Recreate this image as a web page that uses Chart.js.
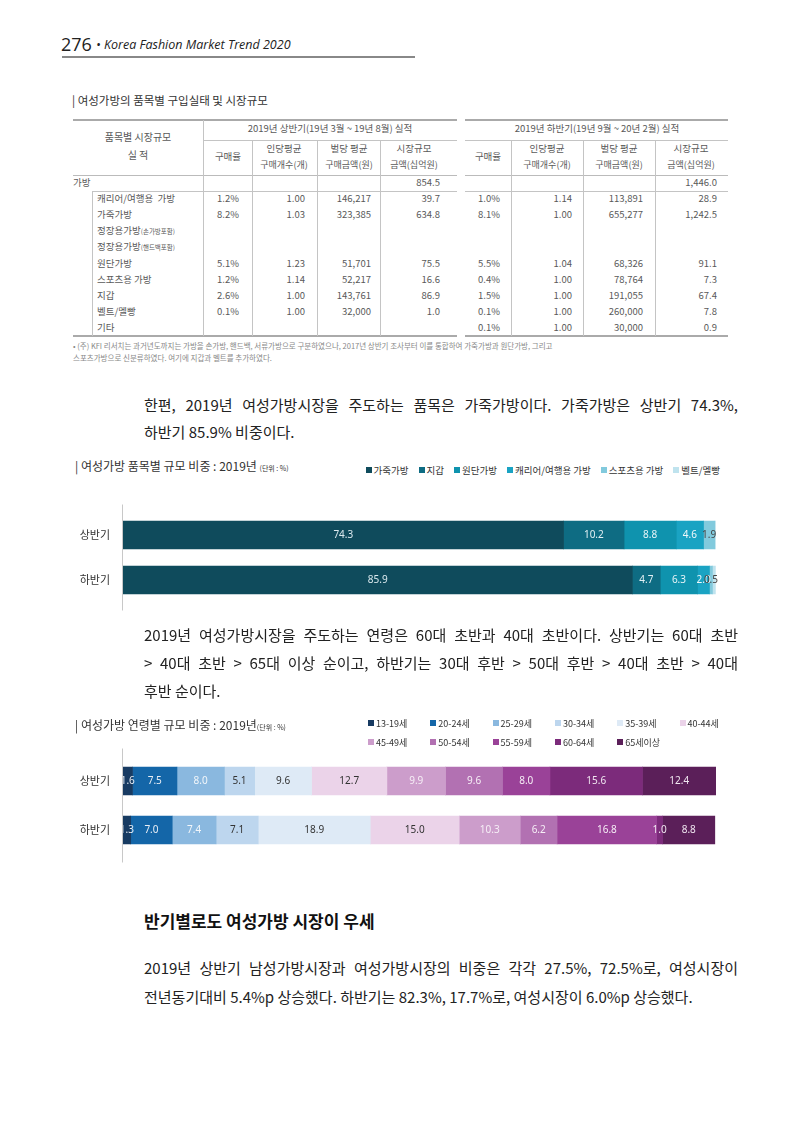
<!DOCTYPE html>
<html><head><meta charset="utf-8">
<script src="https://cdn.jsdelivr.net/npm/chart.js@4"></script>
<style>
body{margin:0;width:800px;height:1131px;position:relative;background:#fff;font-family:"Noto Sans CJK KR","Noto Sans",sans-serif;color:#333;overflow:hidden}
.abs{position:absolute;white-space:nowrap}
.ln{position:absolute;}
.para{position:absolute;left:144px;width:594px;font-size:15px;line-height:15px;color:#222;white-space:nowrap;text-align:justify;text-align-last:justify}
.para.last{text-align:left;text-align-last:left}
canvas{position:absolute;left:0}
.lg{position:absolute;font-size:9.5px;line-height:10px;color:#333;white-space:nowrap}
.lg i{display:inline-block;width:6px;height:6px;margin-right:2px;vertical-align:1px}
</style></head>
<body>
<canvas id="c1" width="800" height="141" style="top:487px"></canvas>
<canvas id="c2" width="800" height="149" style="top:731px"></canvas>
<script>
// ---------- data ----------
const halves = ['상반기', '하반기'];
const itemNames = ['가죽가방', '지갑', '원단가방', '캐리어/여행용 가방', '스포츠용 가방', '벨트/멜빵'];
const leather = [74.3, 85.9];
const wallet = [10.2, 4.7];
const fabric = [8.8, 6.3];
const carrier = [4.6, 2.0];
const sports = [1.9, 0.5];
const belt = [0.1, 0.5];

const ageNames = ['13-19세','20-24세','25-29세','30-34세','35-39세','40-44세','45-49세','50-54세','55-59세','60-64세','65세이상'];
const age13 = [1.6, 1.3];
const age20 = [7.5, 7.0];
const age25 = [8.0, 7.4];
const age30 = [5.1, 7.1];
const age35 = [9.6, 18.9];
const age40 = [12.7, 15.0];
const age45 = [9.9, 10.3];
const age50 = [9.6, 6.2];
const age55 = [8.0, 16.8];
const age60 = [15.6, 1.0];
const age65 = [12.4, 8.8];

// table values
const rowNames = ['캐리어/여행용&nbsp;&nbsp;가방','가죽가방','정장용가방<span style="font-size:6.5px">(손가방포함)</span>','정장용가방<span style="font-size:6.5px">(핸드백포함)</span>','원단가방','스포츠용 가방','지갑','벨트/멜빵','기타'];
const h1Rate  = ['1.2%','8.2%','','','5.1%','1.2%','2.6%','0.1%',''];
const h1Count = ['1.00','1.03','','','1.23','1.14','1.00','1.00',''];
const h1Price = ['146,217','323,385','','','51,701','52,217','143,761','32,000',''];
const h1Size  = ['39.7','634.8','','','75.5','16.6','86.9','1.0',''];
const h2Rate  = ['1.0%','8.1%','','','5.5%','0.4%','1.5%','0.1%','0.1%'];
const h2Count = ['1.14','1.00','','','1.04','1.00','1.00','1.00','1.00'];
const h2Price = ['113,891','655,277','','','68,326','78,764','191,055','260,000','30,000'];
const h2Size  = ['28.9','1,242.5','','','91.1','7.3','67.4','7.8','0.9'];
const totals = ['854.5', '1,446.0'];

// ---------- helpers ----------
function put(html, x, y, fs, o) {
  o = o || {};
  const d = document.createElement('div');
  d.className = 'abs'; d.innerHTML = html;
  d.style.fontSize = fs + 'px'; d.style.lineHeight = fs + 'px';
  d.style.top = (y - fs / 2) + 'px';
  if (o.align === 'right') d.style.right = (800 - x) + 'px';
  else if (o.align === 'center') { d.style.left = x + 'px'; d.style.transform = 'translateX(-50%)'; }
  else d.style.left = x + 'px';
  if (o.color) d.style.color = o.color;
  if (o.weight) d.style.fontWeight = o.weight;
  if (o.family) d.style.fontFamily = o.family;
  if (o.style) d.style.fontStyle = o.style;
  document.body.appendChild(d);
  return d;
}
function hline(x1, x2, y, w, c) {
  const d = document.createElement('div'); d.className = 'ln';
  d.style.left = x1 + 'px'; d.style.width = (x2 - x1) + 'px'; d.style.top = (y - w / 2) + 'px';
  d.style.height = w + 'px'; d.style.background = c; document.body.appendChild(d);
}
function vline(x, y1, y2, w, c) {
  const d = document.createElement('div'); d.className = 'ln';
  d.style.left = (x - w / 2) + 'px'; d.style.top = y1 + 'px'; d.style.width = w + 'px';
  d.style.height = (y2 - y1) + 'px'; d.style.background = c; document.body.appendChild(d);
}
function para(text, y, last) {
  const d = document.createElement('div'); d.className = 'para' + (last ? ' last' : '');
  d.textContent = text; d.style.top = (y - 7.5) + 'px'; document.body.appendChild(d);
}

// ---------- page header ----------
put('276', 61, 44, 18, {family: '"Open Sans",sans-serif', color: '#222'});
put('• Korea Fashion Market Trend 2020', 96, 45, 12.5, {family: '"Open Sans",sans-serif', style: 'italic', color: '#222'});
hline(62, 415, 57, 1.5, '#888');

// ---------- table ----------
put('| 여성가방의 품목별 구입실태 및 시장규모', 72, 101, 11.5, {color: '#333'});
const TC = '#595959', LC = '#c4c4c4';
hline(73, 457, 120, 2, '#aaa'); hline(465, 728, 120, 2, '#aaa');
hline(203, 457, 140, 1, LC); hline(465, 728, 140, 1, LC);
hline(73, 457, 175, 1, '#bbb'); hline(465, 728, 175, 1, '#bbb');
hline(92, 457, 191, 1, LC); hline(465, 728, 191, 1, LC);
hline(73, 457, 336, 2, '#aaa'); hline(465, 728, 336, 2, '#aaa');
vline(203, 120, 336, 1, LC);
[252, 317, 380].forEach(x => vline(x, 140, 336, 1, LC));
[511, 583, 655].forEach(x => vline(x, 140, 336, 1, LC));
vline(92, 191, 336, 1, LC);

put('품목별 시장규모', 138, 137, 10, {align: 'center', color: TC});
put('실 적', 138, 155, 10, {align: 'center', color: TC});
put('2019년 상반기(19년 3월 ~ 19년 8월) 실적', 330, 129, 9.5, {align: 'center', color: TC});
put('2019년 하반기(19년 9월 ~ 20년 2월) 실적', 597, 129, 9.5, {align: 'center', color: TC});
function heads(cx) {
  put('구매율', cx[0], 157, 9.5, {align: 'center', color: TC});
  put('인당평균', cx[1], 149, 9.5, {align: 'center', color: TC});
  put('구매개수(개)', cx[1], 164, 9, {align: 'center', color: TC});
  put('벌당 평균', cx[2], 149, 9.5, {align: 'center', color: TC});
  put('구매금액(원)', cx[2], 164, 9, {align: 'center', color: TC});
  put('시장규모', cx[3], 149, 9.5, {align: 'center', color: TC});
  put('금액(십억원)', cx[3], 164, 9, {align: 'center', color: TC});
}
heads([228, 284, 349, 414]);
heads([488, 547, 619, 691]);

put('가방', 73, 183, 9.5, {color: TC});
put(totals[0], 440, 183, 9.5, {align: 'right', color: TC});
put(totals[1], 717, 183, 9.5, {align: 'right', color: TC});
const rowY = [199, 215, 231, 247, 264, 280, 296, 312, 328];
rowNames.forEach((n, i) => {
  const y = rowY[i];
  put(n, 97, y, 9.5, {color: TC});
  put(h1Rate[i], 228, y, 9.5, {align: 'center', color: TC});
  put(h1Count[i], 305, y, 9.5, {align: 'right', color: TC});
  put(h1Price[i], 371, y, 9.5, {align: 'right', color: TC});
  put(h1Size[i], 440, y, 9.5, {align: 'right', color: TC});
  put(h2Rate[i], 489, y, 9.5, {align: 'center', color: TC});
  put(h2Count[i], 572, y, 9.5, {align: 'right', color: TC});
  put(h2Price[i], 643, y, 9.5, {align: 'right', color: TC});
  put(h2Size[i], 717, y, 9.5, {align: 'right', color: TC});
});
put('• (주) KFI 리서치는 과거년도까지는 가방을 손가방, 핸드백, 서류가방으로 구분하였으나, 2017년 상반기 조사부터 이를 통합하여 가죽가방과 원단가방, 그리고', 73, 346, 7.5, {color: '#888'});
put('스포츠가방으로 신분류하였다. 여기에 지갑과 벨트를 추가하였다.', 73, 358, 7.5, {color: '#888'});

// ---------- paragraphs ----------
para('한편, 2019년 여성가방시장을 주도하는 품목은 가죽가방이다. 가죽가방은 상반기 74.3%,', 404);
para('하반기 85.9% 비중이다.', 431, true);
para('2019년 여성가방시장을 주도하는 연령은 60대 초반과 40대 초반이다. 상반기는 60대 초반', 634);
para('> 40대 초반 > 65대 이상 순이고, 하반기는 30대 후반 > 50대 후반 > 40대 초반 > 40대', 662);
para('후반 순이다.', 690, true);
put('반기별로도 여성가방 시장이 우세', 144, 920, 17, {weight: 700, color: '#111'});
para('2019년 상반기 남성가방시장과 여성가방시장의 비중은 각각 27.5%, 72.5%로, 여성시장이', 967);
para('전년동기대비 5.4%p 상승했다. 하반기는 82.3%, 17.7%로, 여성시장이 6.0%p 상승했다.', 996, true);

// ---------- chart titles ----------
put('| 여성가방 품목별 규모 비중 : 2019년 <span style="font-size:7px">(단위 : %)</span>', 75, 466, 12, {color: '#333'});
put('| 여성가방 연령별 규모 비중 : 2019년<span style="font-size:7px">(단위 : %)</span>', 75, 725, 12, {color: '#333'});

// ---------- colours ----------
const itemColors = ['#0f4b5c', '#0e6c83', '#0f93ae', '#1aa3c3', '#82cadd', '#bfe3ee'];
const itemLabelColors = ['#dbe9ee', '#e3f0f4', '#e8f4f7', '#f0f8fa', '#444', '#444'];
const ageColors = ['#183b62', '#1466a8', '#8ab8df', '#bdd6ee', '#deeaf6', '#ebd3e9', '#cc9dcb', '#b271b2', '#9a4298', '#7c2b7b', '#5b1f59'];
const ageLabelColors = ['#e8eef5', '#e8eef5', '#f2f6fa', '#333', '#333', '#333', '#f6eef6', '#f6eef6', '#f6eef6', '#f0e6f0', '#f0e6f0'];

// ---------- legends ----------
(function () {
  const lg = document.createElement('div'); lg.className = 'lg';
  lg.style.right = '80px'; lg.style.top = '465px';
  lg.innerHTML = itemNames.map((n, i) => '<span style="margin-left:10px"><i style="background:' + itemColors[i] + '"></i>' + n + '</span>').join('');
  document.body.appendChild(lg);
  ageNames.forEach((n, i) => {
    const d = document.createElement('div'); d.className = 'lg';
    d.style.fontSize = '9px';
    d.style.left = (368 + 62.3 * (i % 6)) + 'px';
    d.style.top = (i < 6 ? 719 : 738) + 'px';
    d.innerHTML = '<i style="background:' + ageColors[i] + '"></i>' + n;
    document.body.appendChild(d);
  });
})();

// ---------- charts ----------
const valueLabels = {
  id: 'valueLabels',
  beforeDatasetsDraw(chart) {
    // axis line, extended a little beyond the plot area
    const ctx = chart.ctx, a = chart.chartArea;
    ctx.save(); ctx.strokeStyle = '#c8c8c8'; ctx.lineWidth = 1;
    ctx.beginPath(); ctx.moveTo(a.left - 0.5, a.top - 8); ctx.lineTo(a.left - 0.5, a.bottom + 8); ctx.stroke();
    ctx.restore();
  },
  afterDatasetsDraw(chart) {
    const ctx = chart.ctx, a = chart.chartArea;
    ctx.save();
    ctx.beginPath(); ctx.rect(a.left, a.top - 20, a.right - a.left + 20, a.bottom - a.top + 40); ctx.clip();
    chart.data.datasets.forEach((ds, di) => {
      if (ds.noLabel) return;
      const meta = chart.getDatasetMeta(di);
      meta.data.forEach((bar, i) => {
        ctx.fillStyle = ds.labelColor;
        ctx.font = '10px "Noto Sans", sans-serif';
        ctx.textAlign = 'center'; ctx.textBaseline = 'middle';
        ctx.fillText(ds.data[i].toFixed(1), (bar.x + bar.base) / 2, bar.y);
      });
    });
    ctx.restore();
  }
};

function yScale(width) {
  return {
    stacked: true,
    grid: {display: false},
    border: {display: false},
    ticks: {color: '#333', padding: 5, font: {size: 11, family: '"Noto Sans CJK KR"'}},
    afterFit(s) { s.width = width; }
  };
}

const itemSeries = [leather, wallet, fabric, carrier, sports, belt];
new Chart(document.getElementById('c1'), {
  type: 'bar',
  data: {
    labels: halves,
    datasets: itemSeries.map((s, i) => ({
      label: itemNames[i], data: s, backgroundColor: itemColors[i], borderWidth: 0,
      barThickness: 28, labelColor: itemLabelColors[i], noLabel: i === 5
    }))
  },
  options: {
    indexAxis: 'y', responsive: false, animation: false, devicePixelRatio: 1,
    layout: {padding: {top: 25.5, bottom: 25.5, right: 84, left: 0}},
    plugins: {legend: {display: false}, tooltip: {enabled: false}},
    scales: {x: {stacked: true, min: 0, max: 100, display: false}, y: yScale(123)}
  },
  plugins: [valueLabels]
});

const ageSeries = [age13, age20, age25, age30, age35, age40, age45, age50, age55, age60, age65];
new Chart(document.getElementById('c2'), {
  type: 'bar',
  data: {
    labels: halves,
    datasets: ageSeries.map((s, i) => ({
      label: ageNames[i], data: s, backgroundColor: ageColors[i], borderWidth: 0,
      barThickness: 28, labelColor: ageLabelColors[i]
    }))
  },
  options: {
    indexAxis: 'y', responsive: false, animation: false, devicePixelRatio: 1,
    layout: {padding: {top: 25.5, bottom: 25.5, right: 84, left: 0}},
    plugins: {legend: {display: false}, tooltip: {enabled: false}},
    scales: {x: {stacked: true, min: 0, max: 100, display: false}, y: yScale(123)}
  },
  plugins: [valueLabels]
});
</script>
</body></html>
